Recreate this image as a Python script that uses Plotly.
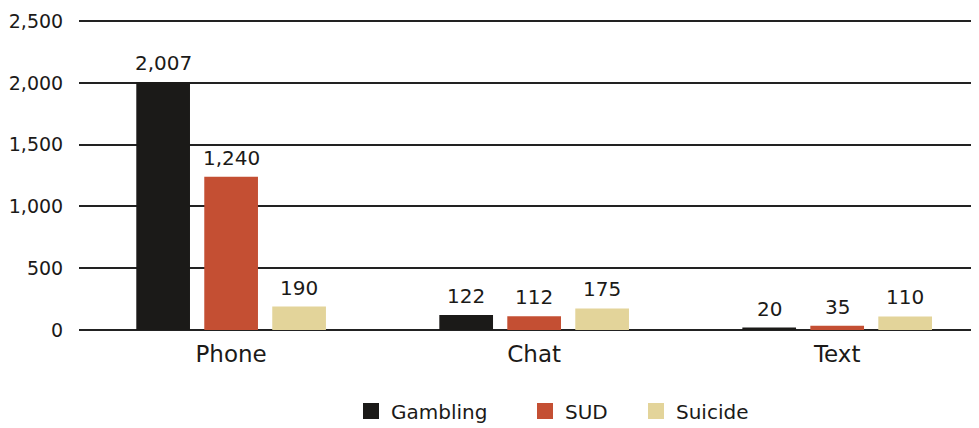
import plotly.graph_objects as go

categories = ["Phone", "Chat", "Text"]
gambling = [2007, 122, 20]
sud = [1240, 112, 35]
suicide = [190, 175, 110]

series = [
    ("Gambling", gambling, "#1b1a18", "legend"),
    ("SUD", sud, "#c44f33", "legend2"),
    ("Suicide", suicide, "#e3d49a", "legend3"),
]

# the page body adds an 8px margin, so the figure is drawn 8px smaller
W, H = 971, 420
BARGAP = 0.327

fig = go.Figure()
for i, (name, vals, color, leg) in enumerate(series):
    fig.add_trace(go.Bar(
        x=list(range(len(categories))),
        y=vals,
        name=name,
        showlegend=False,
        marker=dict(color=color, line=dict(width=0)),
    ))
    # legend-only entry with a bigger square swatch
    fig.add_trace(go.Scatter(
        x=[None], y=[None],
        mode="markers",
        name=name,
        legend=leg,
        marker=dict(symbol="square", size=16, color=color),
    ))
    # value labels sit a little higher than plotly's own outside text
    slot = (1 - BARGAP) / len(series)
    for j, v in enumerate(vals):
        fig.add_annotation(
            x=j + (i - 1) * slot, y=v,
            text=f"{v:,}",
            showarrow=False,
            yanchor="bottom", yshift=5,
            font=dict(size=20, color="#1b1a18"),
        )

# one legend per series so the spacing between entries can follow the original
legend_common = dict(
    orientation="h",
    xref="container", yref="container",
    xanchor="left", yanchor="middle",
    y=(H - 403) / H,
    font=dict(size=20),
    bgcolor="rgba(0,0,0,0)",
)

fig.update_layout(
    width=W,
    height=H,
    margin=dict(l=71, r=0, t=12, b=98),
    plot_bgcolor="white",
    paper_bgcolor="white",
    font=dict(family="DejaVu Sans, sans-serif", color="#1b1a18", size=18),
    showlegend=True,
    barmode="group",
    bargap=BARGAP,
    bargroupgap=0.21,
    xaxis=dict(
        range=[-0.502, 2.468],
        tickvals=list(range(len(categories))),
        ticktext=categories,
        showgrid=False, showline=False, zeroline=False,
        tickfont=dict(size=23),
        ticks="outside", ticklen=3, tickcolor="white",
        automargin=False,
    ),
    yaxis=dict(
        range=[0, 2510],
        tickvals=[0, 500, 1000, 1500, 2000, 2500],
        tickformat=",",
        showgrid=True, gridcolor="#222222", gridwidth=2,
        zeroline=True, zerolinecolor="#222222", zerolinewidth=2,
        showline=False,
        tickfont=dict(size=19),
        ticks="outside", ticklen=11, tickcolor="white",
        automargin=False,
    ),
    legend=dict(legend_common, x=343 / W),
    legend2=dict(legend_common, x=517 / W),
    legend3=dict(legend_common, x=628 / W),
)

fig.write_html("out.html")
